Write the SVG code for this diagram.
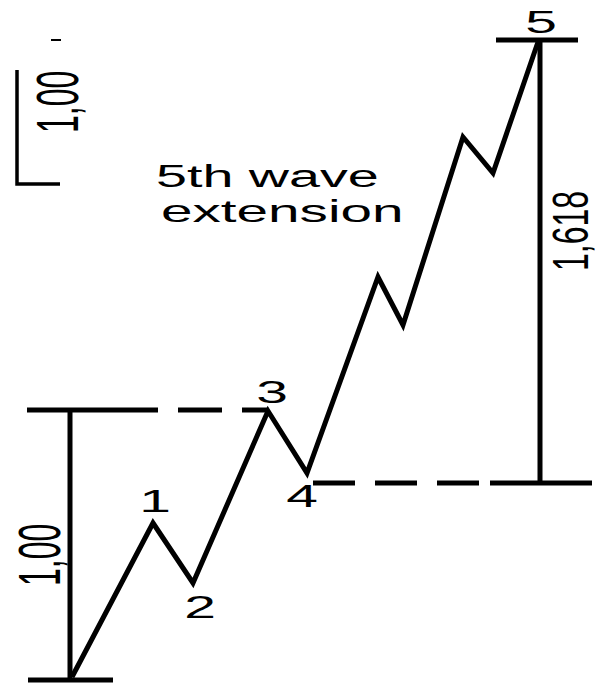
<svg xmlns="http://www.w3.org/2000/svg" width="601" height="684" viewBox="0 0 601 684">
<style>
.ln{stroke:#000;stroke-width:5;fill:none;stroke-linejoin:miter;stroke-linecap:butt}
.th{stroke:#000;stroke-width:3.5;fill:none}
.t{font-family:"Liberation Sans",Arial,sans-serif;font-size:32px;fill:#000}
.c{text-anchor:middle}
</style>
<rect width="601" height="684" fill="#fff"/>
<g id="connectors">
<polyline id="wave" class="ln" points="72,677 153,523 193,583 268,411 307,473 378,277 403,325 463,137 493,173 538,42"/>
<line class="ln" x1="70" y1="410" x2="70" y2="680"/>
<line class="ln" x1="27" y1="410" x2="158" y2="410"/>
<line class="ln" x1="178" y1="410" x2="222" y2="410"/>
<line class="ln" x1="242" y1="410" x2="268" y2="410"/>
<line class="ln" x1="28" y1="680" x2="113" y2="680"/>
<line class="ln" x1="496" y1="40" x2="578" y2="40"/>
<line class="ln" x1="540" y1="40" x2="540" y2="483"/>
<line class="ln" x1="490" y1="483" x2="592" y2="483"/>
<line class="ln" x1="313" y1="483" x2="355" y2="483"/>
<line class="ln" x1="375" y1="483" x2="417" y2="483"/>
<line class="ln" x1="437" y1="483" x2="479" y2="483"/>
<polyline class="th" points="17,70 17,184 60,184"/>
<line stroke="#000" stroke-width="2" x1="51" y1="40" x2="61" y2="40"/>
</g>
<g id="labels">
<text class="t c" transform="translate(155,512) scale(1.78,1)">1</text>
<text class="t c" transform="translate(200,618) scale(1.78,1)">2</text>
<text class="t c" transform="translate(272,403) scale(1.78,1)">3</text>
<text class="t c" transform="translate(302,507) scale(1.78,1)">4</text>
<text class="t c" transform="translate(541,33) scale(1.78,1)">5</text>
<text class="t" transform="translate(156,187) scale(1.74,1)">5th wave</text>
<text class="t" transform="translate(161,222) scale(1.77,1)">extension</text>
<text class="t" transform="translate(60,586) scale(1.85,1) rotate(-90)">1,00</text>
<text class="t" transform="translate(78,133) scale(1.85,1) rotate(-90)">1,00</text>
<text class="t" transform="translate(588,271) scale(1.55,1) rotate(-90)">1,618</text>
</g>
</svg>
